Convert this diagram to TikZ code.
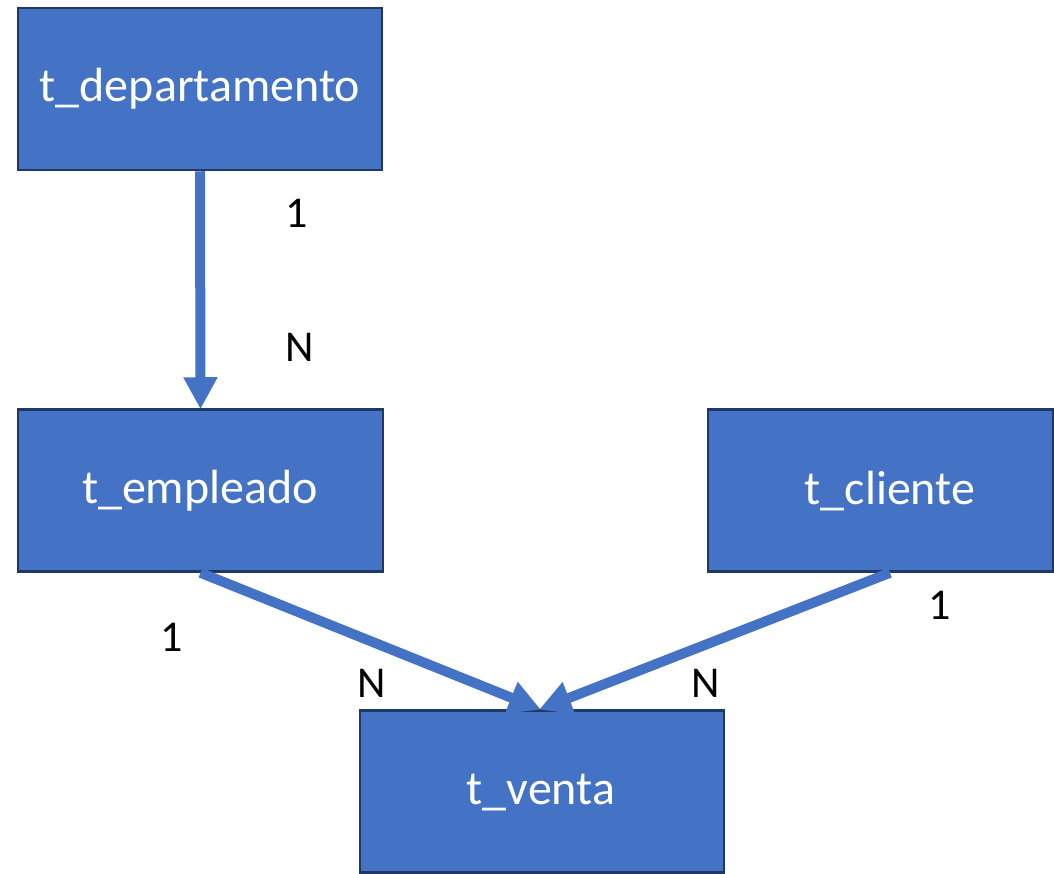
\documentclass[tikz,border=0pt]{standalone}
\usepackage{fontspec}
\setmainfont{Carlito}
\usetikzlibrary{arrows.meta}
\definecolor{boxfill}{HTML}{4472C4}
\definecolor{boxline}{HTML}{203864}
\tikzset{
  entity/.style={draw=boxline, line width=2.5pt, fill=boxfill, inner sep=0pt,
    minimum width=#1, minimum height=162pt},
  entity/.default=364pt,
  etext/.style={text=white, inner sep=0pt, font=\fontsize{48}{56}\selectfont},
  rel/.style={draw=boxfill, line width=10pt,
    -{Triangle[width=32pt,length=32pt]}, shorten >=-1pt},
  card/.style={text=black, inner sep=0pt, font=\fontsize{44}{52}\selectfont}
}
\begin{document}
\begin{tikzpicture}[x=1pt,y=-1pt]
\useasboundingbox (0,0) rectangle (1054,873);
\node[entity] (dep) at (200,89) {};
\node[etext] (depl) at (200,89) {t\_departamento};
\node[entity=365pt] (emp) at (200.5,490.5) {};
\node[etext] (empl) at (200,491) {t\_empleado};
\node[entity=345pt] (cli) at (880.5,490.5) {};
\node[etext] (clil) at (890,491) {t\_cliente};
\node[entity] (ven) at (542,791.5) {};
\node[etext] (venl) at (541,793) {t\_venta};
\draw[rel] (dep.south) -- (emp.north);
\draw[rel] (emp.south) -- ([xshift=-2pt]ven.north);
\draw[rel] (clil |- cli.south) -- ([xshift=-2pt]ven.north);
\node[card] (c1) at (297,213) {1};
\node[card] (c2) at (300,347) {N};
\node[card] (c3) at (172,637) {1};
\node[card] (c4) at (372,683) {N};
\node[card] (c5) at (706,683) {N};
\node[card] (c6) at (940,605) {1};
\end{tikzpicture}
\end{document}
